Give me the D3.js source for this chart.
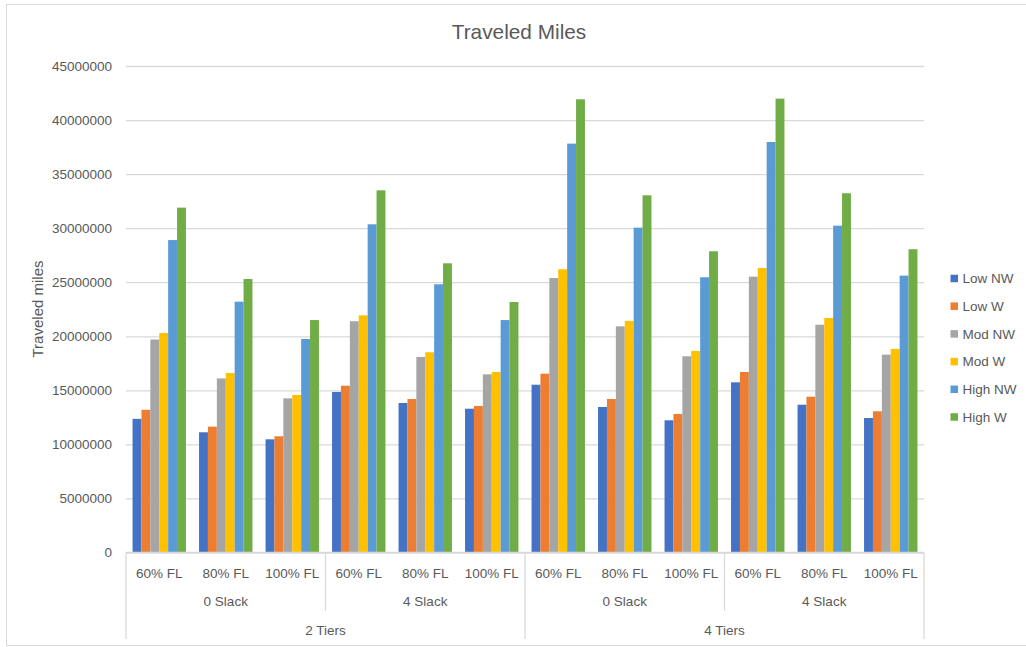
<!DOCTYPE html>
<html>
<head>
<meta charset="utf-8">
<script src="https://cdn.jsdelivr.net/npm/d3@7/dist/d3.min.js"></script>
<style>
  html, body { margin: 0; padding: 0; background: #fff; }
  svg { display: block; }
  text { font-family: "Liberation Sans", Arial, sans-serif; fill: #595959; }
</style>
</head>
<body>
<svg id="chart" width="1026" height="647"></svg>
<script>
// Category levels of the multi-level x axis
const tiers = ["2 Tiers", "4 Tiers"];
const slacks = ["0 Slack", "4 Slack"];
const loads = ["60% FL", "80% FL", "100% FL"];

// Series names and colours
const seriesNames = ["Low NW", "Low W", "Mod NW", "Mod W", "High NW", "High W"];
const seriesColors = ["#4472C4", "#ED7D31", "#A5A5A5", "#FFC000", "#5B9BD5", "#70AD47"];

// Traveled miles per series, one value per (tier, slack, load) combination
const lowNW  = [12360000, 11120000, 10470000, 14850000, 13830000, 13300000, 15520000, 13460000, 12230000, 15740000, 13670000, 12440000];
const lowW   = [13200000, 11640000, 10750000, 15430000, 14200000, 13550000, 16540000, 14200000, 12810000, 16700000, 14410000, 13060000];
const modNW  = [19700000, 16100000, 14260000, 21390000, 18090000, 16480000, 25390000, 20920000, 18150000, 25510000, 21070000, 18300000];
const modW   = [20300000, 16600000, 14570000, 21940000, 18520000, 16700000, 26200000, 21420000, 18640000, 26320000, 21690000, 18830000];
const highNW = [28900000, 23200000, 19750000, 30360000, 24810000, 21500000, 37820000, 30050000, 25460000, 37970000, 30230000, 25610000];
const highW  = [31900000, 25300000, 21500000, 33500000, 26750000, 23170000, 41920000, 33040000, 27860000, 41980000, 33230000, 28050000];

// Y axis ticks
const yTicks = [0, 5000000, 10000000, 15000000, 20000000, 25000000, 30000000, 35000000, 40000000, 45000000];

const seriesValues = [lowNW, lowW, modNW, modW, highNW, highW];

// Flattened group keys: tier / slack / load
const groups = [];
tiers.forEach(t => slacks.forEach(s => loads.forEach(l => groups.push({ tier: t, slack: s, load: l, key: t + "|" + s + "|" + l }))));

const svg = d3.select("#chart");

// Chart frame
svg.append("rect")
  .attr("x", 6.5).attr("y", 4.5)
  .attr("width", 1040).attr("height", 641)
  .attr("fill", "none").attr("stroke", "#D9D9D9").attr("stroke-width", 1);

const plotLeft = 126, plotRight = 924, plotTop = 66, plotBottom = 552.5;

const y = d3.scaleLinear().domain([0, 45000000]).range([plotBottom, plotTop]);

const x0 = d3.scaleBand()
  .domain(groups.map(g => g.key))
  .range([plotLeft, plotRight])
  .paddingInner(0.197)
  .paddingOuter(0.0985);

const x1 = d3.scaleBand()
  .domain(seriesNames)
  .range([0, x0.bandwidth()])
  .padding(0);

// Gridlines
const grid = svg.append("g")
  .attr("transform", `translate(${plotLeft},0)`)
  .call(d3.axisLeft(y).tickValues(yTicks).tickSize(-(plotRight - plotLeft)).tickFormat(""));
grid.select(".domain").remove();
grid.selectAll("line").attr("stroke", "#D9D9D9").attr("stroke-width", 1.3);

// Y tick labels
const yAxis = svg.append("g")
  .attr("transform", `translate(${plotLeft - 14},0)`)
  .call(d3.axisLeft(y).tickValues(yTicks).tickSize(0).tickPadding(0).tickFormat(d3.format("d")));
yAxis.select(".domain").remove();
yAxis.selectAll("text")
  .style("font-family", '"Liberation Sans", Arial, sans-serif')
  .style("font-size", "13.5px")
  .attr("fill", "#595959");

// Bars
const barData = [];
groups.forEach((g, gi) => {
  seriesNames.forEach((s, si) => {
    barData.push({ group: g.key, series: s, value: seriesValues[si][gi], color: seriesColors[si] });
  });
});

svg.append("g").selectAll("rect")
  .data(barData)
  .join("rect")
  .attr("x", d => x0(d.group) + x1(d.series))
  .attr("y", d => y(d.value))
  .attr("width", x1.bandwidth())
  .attr("height", d => y(0) - y(d.value))
  .attr("fill", d => d.color);

// X axis baseline
svg.append("line")
  .attr("x1", plotLeft).attr("x2", plotRight)
  .attr("y1", plotBottom).attr("y2", plotBottom)
  .attr("stroke", "#D9D9D9").attr("stroke-width", 1.3);

// Multi-level category separators
const step = x0.step();
const sepX = i => plotLeft + i * step;
const perTier = slacks.length * loads.length;
for (let i = 0; i <= groups.length; i++) {
  if (i % perTier === 0) {
    svg.append("line")
      .attr("x1", sepX(i)).attr("x2", sepX(i))
      .attr("y1", plotBottom).attr("y2", 639)
      .attr("stroke", "#D9D9D9").attr("stroke-width", 1.3);
  } else if (i % loads.length === 0) {
    svg.append("line")
      .attr("x1", sepX(i)).attr("x2", sepX(i))
      .attr("y1", plotBottom).attr("y2", 611)
      .attr("stroke", "#D9D9D9").attr("stroke-width", 1.3);
  }
}

const labelStyle = sel => sel
  .attr("text-anchor", "middle")
  .style("font-size", "13.5px");

// Load labels
svg.append("g").selectAll("text")
  .data(groups)
  .join("text")
  .attr("x", d => x0(d.key) + x0.bandwidth() / 2)
  .attr("y", 577.5)
  .text(d => d.load)
  .call(labelStyle);

// Slack labels
const slackGroups = [];
tiers.forEach((t, ti) => slacks.forEach((s, si) => slackGroups.push({ label: s, index: ti * slacks.length + si })));
svg.append("g").selectAll("text")
  .data(slackGroups)
  .join("text")
  .attr("x", d => sepX(d.index * loads.length) + step * loads.length / 2)
  .attr("y", 605.5)
  .text(d => d.label)
  .call(labelStyle);

// Tier labels
svg.append("g").selectAll("text")
  .data(tiers)
  .join("text")
  .attr("x", (d, i) => sepX(i * perTier) + step * perTier / 2)
  .attr("y", 634.5)
  .text(d => d)
  .call(labelStyle);

// Y axis title
svg.append("text")
  .attr("transform", "translate(43,309) rotate(-90)")
  .attr("text-anchor", "middle")
  .style("font-size", "15px")
  .text("Traveled miles");

// Chart title
svg.append("text")
  .attr("x", 519)
  .attr("y", 39)
  .attr("text-anchor", "middle")
  .style("font-size", "20.8px")
  .text("Traveled Miles");

// Legend
const legend = svg.append("g").attr("transform", "translate(950.5,0)");
const legendItems = legend.selectAll("g")
  .data(seriesNames)
  .join("g")
  .attr("transform", (d, i) => `translate(0,${278.5 + i * 27.7})`);
legendItems.append("rect")
  .attr("x", 0).attr("y", -3.75)
  .attr("width", 7.5).attr("height", 7.5)
  .attr("fill", (d, i) => seriesColors[i]);
legendItems.append("text")
  .attr("x", 12)
  .attr("dy", "0.36em")
  .style("font-size", "13.5px")
  .text(d => d);
</script>
</body>
</html>
